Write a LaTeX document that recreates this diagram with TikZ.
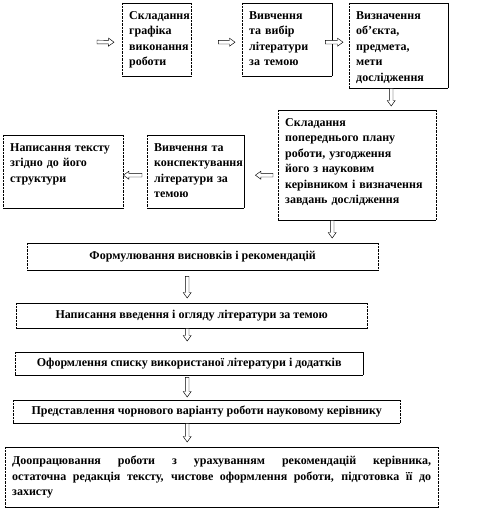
\documentclass[tikz,border=0pt]{standalone}
\usepackage{fontspec}
\setmainfont{Liberation Serif}
\usetikzlibrary{calc}

\tikzset{
  stage/.style={anchor=north west,inner xsep=7pt,inner ysep=6pt,align=left,text height=10pt},
  line/.style={anchor=north west,inner sep=0pt,align=center},
  edge/.style={line width=0.5pt},
  dotedge/.style={line width=0.6pt,dash pattern=on 0.7pt off 0.7pt},
  flow/.style={draw,fill=white,line width=0.45pt,
    to path={
      ($(\tikztostart)!1.8pt!90:(\tikztotarget)$)
      -- ($(\tikztotarget)!5.5pt!(\tikztostart)!1.8pt!-90:(\tikztostart)$)
      -- ($(\tikztotarget)!5.5pt!(\tikztostart)!4pt!-90:(\tikztostart)$)
      -- (\tikztotarget)
      -- ($(\tikztotarget)!5.5pt!(\tikztostart)!4pt!90:(\tikztostart)$)
      -- ($(\tikztotarget)!5.5pt!(\tikztostart)!1.8pt!90:(\tikztostart)$)
      -- ($(\tikztostart)!1.8pt!-90:(\tikztotarget)$)
      -- cycle}}
}

\begin{document}
\begin{tikzpicture}[x=1pt,y=-1pt,font=\fontsize{12pt}{15.5pt}\selectfont\bfseries]
  \useasboundingbox (0,0) rectangle (484,510);

  % top row
  \node[stage,minimum width=69pt,minimum height=73pt,text width=55pt,text depth=51pt] (b1) at (122,3)
    {Складання\\графіка\\виконання\\роботи};
  \node[stage,minimum width=90pt,minimum height=73pt,text width=76pt,text depth=51pt] (b2) at (242,3)
    {Вивчення\\та вибір\\літератури\\за темою};
  \node[stage,minimum width=99pt,minimum height=85pt,text width=85pt,text depth=63pt] (b3) at (349,3)
    {Визначення\\об’єкта,\\предмета,\\мети\\дослідження};

  % second row
  \node[stage,minimum width=158pt,minimum height=110pt,text width=144pt,text depth=88pt] (b4) at (278,110)
    {Складання\\попереднього плану\\роботи, узгодження\\його з науковим\\керівником і визначення\\завдань дослідження};
  \node[stage,minimum width=97pt,minimum height=73pt,text width=83pt,text depth=51pt] (b5) at (147,135)
    {Вивчення та\\конспектування\\літератури за\\темою};
  \node[stage,minimum width=120pt,minimum height=73pt,text width=106pt,text depth=51pt] (b6) at (3,135)
    {Написання тексту\\згідно до його\\структури};

  % column
  \node[line,minimum width=351pt,minimum height=27pt] (b7) at (27,243)
    {Формулювання висновків і рекомендацій};
  \node[line,minimum width=351pt,minimum height=25pt] (b8) at (16,303)
    {Написання введення і огляду літератури за темою};
  \node[line,minimum width=348pt,minimum height=23pt] (b9) at (15,352)
    {Оформлення списку використаної літератури і додатків};
  \node[line,minimum width=387pt,minimum height=23pt] (b10) at (13,400)
    {Представлення чорнового варіанту роботи науковому керівнику};
  \node[line,inner xsep=7pt,align=justify,text width=419pt,minimum width=433pt,minimum height=60pt] (b11) at (5,447)
    {Доопрацювання роботи з урахуванням рекомендацій керівника,\linebreak
     остаточна редакція тексту, чистове оформлення роботи, підготовка її до\linebreak
     захисту};

  % frames
  \foreach \b/\rs in {b1/dotedge,b2/edge,b3/edge,b4/dotedge,b5/edge,b6/dotedge,
                      b7/dotedge,b8/dotedge,b9/edge,b10/dotedge,b11/dotedge} {
    \draw[edge] (\b.north west) -- (\b.north east) (\b.south west) -- (\b.south east);
    \draw[dotedge] (\b.north west) -- (\b.south west);
    \draw[\rs] (\b.north east) -- (\b.south east);
  }

  % arrows
  \coordinate (in) at (97,42);
  \draw[flow] (in) to ([xshift=-8pt,yshift=-2.5pt]b1.west);
  \draw[flow] ([xshift=27pt,yshift=-2.5pt]b1.east) to ([xshift=-7pt,yshift=-2.5pt]b2.west);
  \draw[flow] ([xshift=-7pt,yshift=-2.5pt]b2.east) to ([xshift=-6pt,yshift=3.5pt]b3.west);
  \draw[flow] ([xshift=-7.5pt]b3.south) to ([xshift=34pt,yshift=4pt]b4.north);
  \draw[flow] ([xshift=-5pt,yshift=-10pt]b4.west) to ([xshift=11pt,yshift=-3.5pt]b5.east);
  \draw[flow] ([xshift=-5pt,yshift=-3.5pt]b5.west) to ([yshift=-3.5pt]b6.east);
  \draw[flow] ([xshift=-25pt]b4.south) to ([xshift=129.5pt,yshift=5pt]b7.north);
  \draw[flow] ([xshift=-15.5pt,yshift=-6pt]b7.south) to ([xshift=-4.5pt,yshift=5pt]b8.north);
  \draw[flow] ([xshift=-4.5pt]b8.south) to ([xshift=-2pt,yshift=11pt]b9.north);
  \draw[flow] ([xshift=-2pt,yshift=-2pt]b9.south) to ([xshift=-19.5pt,yshift=3pt]b10.north);
  \draw[flow] ([xshift=-19.5pt]b10.south) to ([xshift=-34.5pt,yshift=5pt]b11.north);
\end{tikzpicture}
\end{document}
